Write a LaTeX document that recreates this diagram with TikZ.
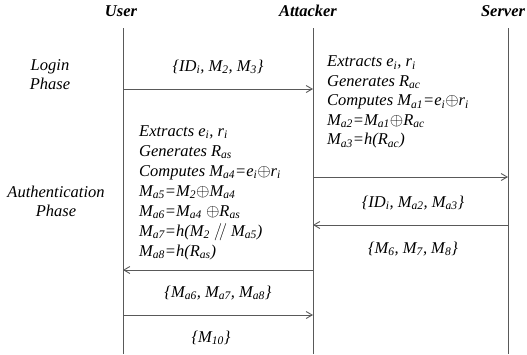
\documentclass[tikz,border=0pt]{standalone}
\usepackage{fontspec}
\setmainfont{Liberation Serif}
\usetikzlibrary{arrows.meta}
\newcommand{\lo}[1]{\textsubscript{#1}}
\newcommand{\xor}{$\oplus$}
\tikzset{
  lifeline/.style={draw=black!65, line width=0.9pt},
  msg/.style={draw=black!65, line width=0.9pt, -{Straight Barb[length=6pt,width=7pt]}},
  head/.style={font=\fontsize{16.5}{18}\selectfont\bfseries\itshape},
  txt/.style={font=\fontsize{16.5}{18}\selectfont\itshape, inner sep=0pt},
  phase/.style={font=\fontsize{16.5}{19}\selectfont\itshape, align=center, inner sep=0pt}
}
\begin{document}
\begin{tikzpicture}[x=1pt, y=-1pt]
        \useasboundingbox (0,0) rectangle (527,354);

        % Participants
        \node[head] (user) at (121,11) {User};
        \node[head] (attacker) at (308,11) {Attacker};
        \node[head] (server) at (503,11) {Server};

        % Lifelines
        \coordinate (ut) at (123,28);
        \coordinate (ub) at (123,354);
        \coordinate (at) at (313,28);
        \coordinate (ab) at (313,354);
        \coordinate (st) at (508,28);
        \coordinate (sb) at (508,354);
        \draw[lifeline] (ut) -- (ub);
        \draw[lifeline] (at) -- (ab);
        \draw[lifeline] (st) -- (sb);

        % Phases
        \node[phase] (login) at (50,75) {Login\\Phase};
        \node[phase] (auth) at (56,201) {Authentication\\Phase};

        % Messages
        \coordinate (u1) at (123,89);
        \coordinate (a1) at (313,89);
        \draw[msg] (u1) -- (a1);
        \node[txt] (m1) at (218,67) {\{ID\lo{i}, M\lo{2}, M\lo{3}\}};

        \coordinate (a2) at (313,177);
        \coordinate (s2) at (508,177);
        \draw[msg] (a2) -- (s2);

        \coordinate (s3) at (508,225);
        \coordinate (a3) at (313,225);
        \draw[msg] (s3) -- (a3);
        \node[txt] (m3) at (413,203) {\{ID\lo{i}, M\lo{a2}, M\lo{a3}\}};
        \node[txt] (m4) at (413,249) {\{M\lo{6}, M\lo{7}, M\lo{8}\}};

        \coordinate (a5) at (313,270);
        \coordinate (u5) at (123,270);
        \draw[msg] (a5) -- (u5);
        \node[txt] (m5) at (218,293) {\{M\lo{a6}, M\lo{a7}, M\lo{a8}\}};

        \coordinate (u6) at (123,315);
        \coordinate (a6) at (313,315);
        \draw[msg] (u6) -- (a6);
        \node[txt] (m6) at (211,338) {\{M\lo{10}\}};

        % Attacker computations (login)
        \foreach \line [count=\i] in {{Extracts e\lo{i}, r\lo{i}}, {Generates R\lo{ac}},
            {Computes M\lo{a1}=e\lo{i}\xor r\lo{i}}, {M\lo{a2}=M\lo{a1}\xor R\lo{ac}},
            {M\lo{a3}=h(R\lo{ac})}}
          \node[txt, anchor=base west] (login\i) at (327,47+19.5*\i) {\line};

        % Attacker computations (authentication)
        \foreach \line [count=\i] in {{Extracts e\lo{i}, r\lo{i}}, {Generates R\lo{as}},
            {Computes M\lo{a4}=e\lo{i}\xor r\lo{i}}, {M\lo{a5}=M\lo{2}\xor M\lo{a4}},
            {M\lo{a6}=M\lo{a4} \xor R\lo{as}}, {M\lo{a7}=h(M\lo{2} $/\!/$ M\lo{a5})},
            {M\lo{a8}=h(R\lo{as})}}
          \node[txt, anchor=base west] (auth\i) at (139,116+20*\i) {\line};
      \end{tikzpicture}
\end{document}
